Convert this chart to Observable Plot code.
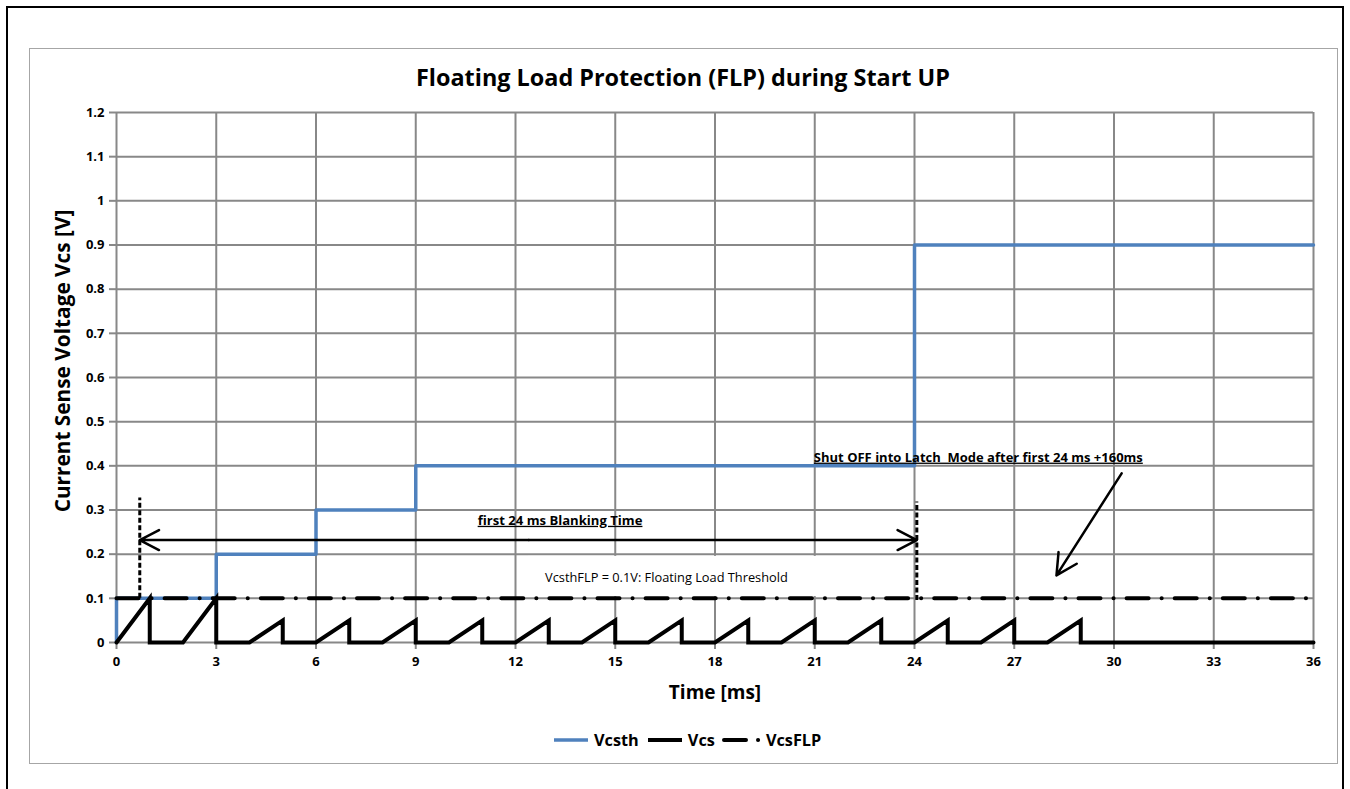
<!DOCTYPE html>
<html>
<head>
<meta charset="utf-8">
<script src="https://cdn.jsdelivr.net/npm/d3@7"></script>
<script src="https://cdn.jsdelivr.net/npm/@observablehq/plot@0.6"></script>
<style>
  html, body { margin: 0; padding: 0; background: #fff; overflow: hidden; }
  #page { position: relative; width: 1350px; height: 789px; font-family: "Open Sans", Lato, sans-serif; }
  #outer { position: absolute; left: 6px; top: 6px; width: 1334px; height: 820px; border: 2.5px solid #000; }
  #inner { position: absolute; left: 29px; top: 48px; width: 1307px; height: 714px; border: 1.5px solid #a6a6a6; }
  #chart { position: absolute; left: 0; top: 0; }
  .lbl { position: absolute; font-weight: bold; color: #000; white-space: nowrap; }
  #title { left: 0; width: 1366px; text-align: center; top: 62px; font-size: 23.4px; line-height: 30px; }
  #xlabel { left: 615px; width: 200px; text-align: center; top: 679px; font-size: 19px; line-height: 26px; }
  #ylabel { left: 62px; top: 361px; font-size: 20.8px; line-height: 26px; transform: translate(-50%, -50%) rotate(-90deg); }
  #legend { position: absolute; top: 729px; left: 552px; display: flex; align-items: center; font-weight: bold; font-size: 16.3px; height: 22px; }
  #legend .item { display: flex; align-items: center; margin-right: 7px; }
  #legend svg { margin-right: 4px; }
</style>
</head>
<body>
<div id="page">
  <div id="outer"></div>
  <div id="inner"></div>
  <div id="chart"></div>
  <div class="lbl" id="title">Floating Load Protection (FLP) during Start UP</div>
  <div class="lbl" id="xlabel">Time [ms]</div>
  <div class="lbl" id="ylabel">Current Sense Voltage Vcs [V]</div>
  <div id="legend"></div>
</div>
<script>
// ---- data ----
const xTicks = [0, 3, 6, 9, 12, 15, 18, 21, 24, 27, 30, 33, 36];
const yTicks = [0, 0.1, 0.2, 0.3, 0.4, 0.5, 0.6, 0.7, 0.8, 0.9, 1, 1.1, 1.2];

// Vcsth (step-after)
const vcsthTime = [0, 0, 3, 6, 9, 24, 36];
const vcsthV    = [0, 0.1, 0.2, 0.3, 0.4, 0.9, 0.9];

// Vcs sawtooth
const vcsTime = [0,1,1, 2,3,3, 4,5,5, 6,7,7, 8,9,9, 10,11,11, 12,13,13, 14,15,15, 16,17,17, 18,19,19, 20,21,21, 22,23,23, 24,25,25, 26,27,27, 28,29,29, 36];
const vcsV    = [0,0.1,0, 0,0.1,0, 0,0.05,0, 0,0.05,0, 0,0.05,0, 0,0.05,0, 0,0.05,0, 0,0.05,0, 0,0.05,0, 0,0.05,0, 0,0.05,0, 0,0.05,0, 0,0.05,0, 0,0.05,0, 0,0.05,0, 0];

// VcsFLP threshold
const flpTime = [0, 36];
const flpV    = [0.1, 0.1];

// annotations (data units)
const blankMarkers = [{x: 0.7, y1: 0.1, y2: 0.327}, {x: 24.07, y1: 0.095, y2: 0.318}];
const blankArrowY = 0.232;
const blankArrowMid = 12.4;
const latchArrow = {x1: 30.23, y1: 0.383, x2: 28.27, y2: 0.152};
const notes = [
  {x: 13.34, y: 0.276, text: "first 24 ms Blanking Time", size: 13.1, u: true},
  {x: 25.92, y: 0.419, text: "Shut OFF into Latch  Mode after first 24 ms +160ms", size: 13, u: true},
];
const flpNote = {x: 16.54, y: 0.147, text: "VcsthFLP = 0.1V: Floating Load Threshold", x1: 12.39, x2: 21.08, y1: 0.104, y2: 0.195};

const series = [
  {name: "Vcsth", color: "#4F81BD", width: 3.5, dash: null},
  {name: "Vcs", color: "#000", width: 4, dash: null},
  {name: "VcsFLP", color: "#000", width: 4, dash: "22,13,0.1,13"}
];

const vcsth = vcsthTime.map((t, i) => ({t, v: vcsthV[i]}));
const vcs = vcsTime.map((t, i) => ({t, v: vcsV[i]}));
const flp = flpTime.map((t, i) => ({t, v: flpV[i]}));

const grid = "#888";
const fmt = d => String(+d.toFixed(1));

const chart = Plot.plot({
  width: 1350, height: 789,
  marginLeft: 116, marginRight: 37, marginTop: 112, marginBottom: 147,
  style: {background: "transparent", fontFamily: "'Open Sans', Lato, sans-serif", overflow: "visible"},
  x: {domain: [0, 36]},
  y: {domain: [0, 1.2]},
  marks: [
    Plot.gridX(xTicks, {stroke: grid, strokeOpacity: 1, strokeWidth: 2}),
    Plot.gridY(yTicks, {stroke: grid, strokeOpacity: 1, strokeWidth: 2}),
    Plot.axisX(xTicks, {tickSize: 7, tickPadding: 7, stroke: grid, strokeWidth: 2, fill: "#000", fontSize: 13, fontWeight: "bold", label: null, tickFormat: d => String(d)}),
    Plot.axisY(yTicks, {tickSize: 7, tickPadding: 5, stroke: grid, strokeWidth: 2, fill: "#000", fontSize: 13, fontWeight: "bold", label: null, tickFormat: fmt}),
    Plot.rect([flpNote], {x1: "x1", x2: "x2", y1: "y1", y2: "y2", fill: "#fff"}),
    Plot.text([flpNote], {x: "x", y: "y", text: "text", fontSize: 12.8, fill: "#000"}),
    Plot.line(vcsth, {x: "t", y: "v", curve: "step-after", stroke: series[0].color, strokeWidth: series[0].width}),
    Plot.line(vcs, {x: "t", y: "v", stroke: series[1].color, strokeWidth: series[1].width, strokeLinejoin: "miter", strokeMiterlimit: 10}),
    Plot.line(flp, {x: "t", y: "v", stroke: series[2].color, strokeWidth: series[2].width, strokeDasharray: series[2].dash, strokeLinecap: "round"}),
    Plot.ruleX(blankMarkers, {x: "x", y1: "y1", y2: "y2", stroke: "#000", strokeWidth: 3, strokeDasharray: "5,2.5"}),
    Plot.arrow([{x1: blankArrowMid, x2: blankMarkers[0].x}, {x1: blankArrowMid, x2: blankMarkers[1].x}], {x1: "x1", x2: "x2", y1: () => blankArrowY, y2: () => blankArrowY, bend: 0, headLength: 13, headAngle: 55, strokeWidth: 2.5, stroke: "#000"}),
    Plot.arrow([latchArrow], {x1: "x1", y1: "y1", x2: "x2", y2: "y2", bend: 0, headLength: 14, headAngle: 55, strokeWidth: 2.5, stroke: "#000"}),
    Plot.text(notes, {x: "x", y: "y", text: "text", fontSize: d => d.size, fontWeight: "bold", fill: "#000"})
  ]
});
document.getElementById("chart").appendChild(chart);

// underline annotation texts
d3.select(chart).selectAll("text").each(function() {
  const t = this.textContent;
  if (notes.some(n => n.u && n.text === t)) this.style.textDecoration = "underline";
});

// legend
const legend = document.getElementById("legend");
series.forEach(s => {
  const item = document.createElement("div");
  item.className = "item";
  const w = s.dash ? 40 : 38;
  item.innerHTML = `<svg width="${w}" height="10"><line x1="2" y1="5" x2="${w - 2}" y2="5" stroke="${s.color}" stroke-width="${s.width}" ${s.dash ? `stroke-dasharray="22,12,0.1,100" stroke-linecap="round"` : ""}/></svg><span>${s.name}</span>`;
  legend.appendChild(item);
});
</script>
</body>
</html>
